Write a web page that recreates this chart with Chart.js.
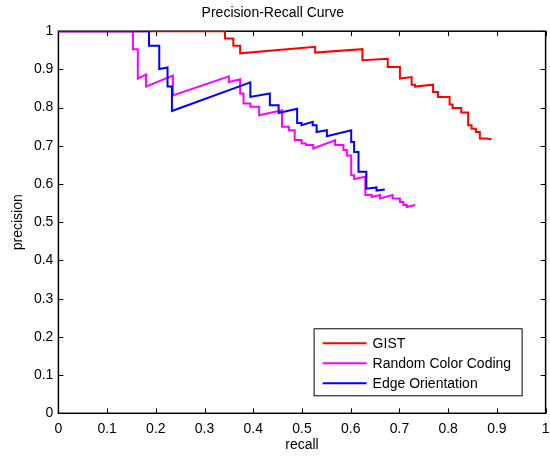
<!DOCTYPE html>
<html>
<head>
<meta charset="utf-8">
<script src="https://cdn.jsdelivr.net/npm/chart.js@4.4.1/dist/chart.umd.min.js"></script>
<style>
  html, body { margin: 0; padding: 0; background: #fff; }
  #prChart { display: block; }
</style>
</head>
<body>
<canvas id="prChart" width="550" height="459"></canvas>
<script>
// series values (recall -> precision, step curves)
var seriesNames = ['GIST', 'Random Color Coding', 'Edge Orientation'];
var seriesColors = ['#ff0000', '#ff00ff', '#0000ff'];

var gistRecall = [0, 0.342, 0.342, 0.359, 0.359, 0.373, 0.373, 0.527, 0.527, 0.624, 0.624, 0.676, 0.676, 0.701, 0.701,
  0.725, 0.725, 0.732, 0.732, 0.769, 0.769, 0.779, 0.779, 0.803, 0.803, 0.809, 0.809, 0.827, 0.827, 0.841, 0.841,
  0.848, 0.848, 0.857, 0.857, 0.865, 0.865, 0.878, 0.889];
var gistPrecision = [1, 1, 0.981, 0.981, 0.962, 0.962, 0.942, 0.959, 0.944, 0.953, 0.924, 0.928, 0.906, 0.906, 0.876,
  0.880, 0.860, 0.860, 0.855, 0.860, 0.841, 0.841, 0.828, 0.828, 0.808, 0.808, 0.799, 0.799, 0.787, 0.787, 0.754,
  0.754, 0.745, 0.745, 0.736, 0.736, 0.719, 0.719, 0.717];

var colorRecall = [0, 0.153, 0.153, 0.163, 0.163, 0.180, 0.180, 0.235, 0.235, 0.350, 0.350, 0.373, 0.373, 0.380, 0.380,
  0.394, 0.394, 0.412, 0.412, 0.459, 0.459, 0.473, 0.473, 0.485, 0.485, 0.499, 0.499, 0.508, 0.508, 0.523, 0.523,
  0.568, 0.568, 0.585, 0.585, 0.592, 0.592, 0.601, 0.601, 0.607, 0.607, 0.630, 0.630, 0.643, 0.643, 0.660, 0.660,
  0.686, 0.686, 0.701, 0.701, 0.708, 0.708, 0.715, 0.715, 0.732];
var colorPrecision = [1, 1, 0.953, 0.953, 0.876, 0.887, 0.855, 0.884, 0.832, 0.882, 0.867, 0.874, 0.837, 0.837, 0.811,
  0.811, 0.802, 0.802, 0.780, 0.793, 0.750, 0.750, 0.741, 0.741, 0.715, 0.715, 0.706, 0.706, 0.702, 0.702, 0.693,
  0.715, 0.702, 0.702, 0.689, 0.689, 0.675, 0.675, 0.623, 0.623, 0.613, 0.619, 0.571, 0.571, 0.566, 0.571, 0.562,
  0.571, 0.562, 0.562, 0.553, 0.553, 0.545, 0.545, 0.540, 0.545];

var edgeRecall = [0, 0.186, 0.186, 0.207, 0.207, 0.224, 0.224, 0.233, 0.233, 0.394, 0.394, 0.434, 0.434, 0.452, 0.452,
  0.490, 0.490, 0.499, 0.499, 0.522, 0.522, 0.530, 0.530, 0.551, 0.551, 0.601, 0.601, 0.607, 0.607, 0.616, 0.616,
  0.632, 0.632, 0.653, 0.653, 0.670];
var edgePrecision = [1, 1, 0.962, 0.962, 0.901, 0.905, 0.855, 0.855, 0.791, 0.866, 0.828, 0.837, 0.806, 0.806, 0.786,
  0.797, 0.760, 0.760, 0.754, 0.763, 0.754, 0.754, 0.736, 0.741, 0.725, 0.741, 0.710, 0.710, 0.684, 0.684, 0.632,
  0.632, 0.588, 0.591, 0.583, 0.586];

var axisTicks = [0, 0.1, 0.2, 0.3, 0.4, 0.5, 0.6, 0.7, 0.8, 0.9, 1];

function toPoints(xs, ys) {
  return xs.map(function (x, i) { return { x: x, y: ys[i] }; });
}

var fontName = "'Liberation Sans', Arial, sans-serif";

// matlab style box with inward ticks on all four sides
var boxPlugin = {
  id: 'matlabBox',
  beforeDatasetsDraw: function (chart) {
    var ctx = chart.ctx, a = chart.chartArea;
    var xs = chart.scales.x, ys = chart.scales.y;
    var tl = 5;
    ctx.save();
    ctx.strokeStyle = '#000';
    ctx.lineWidth = 1;
    ctx.beginPath();
    axisTicks.forEach(function (v) {
      var px = Math.round(xs.getPixelForValue(v)) + 0.5;
      ctx.moveTo(px, a.bottom); ctx.lineTo(px, a.bottom - tl);
      ctx.moveTo(px, a.top); ctx.lineTo(px, a.top + tl);
      var py = Math.round(ys.getPixelForValue(v)) + 0.5;
      ctx.moveTo(a.left, py); ctx.lineTo(a.left + tl, py);
      ctx.moveTo(a.right, py); ctx.lineTo(a.right - tl, py);
    });
    ctx.stroke();
    ctx.lineWidth = 1.5;
    ctx.strokeRect(a.left, a.top, a.right - a.left, a.bottom - a.top);
    ctx.restore();
  }
};

// legend box in the lower right corner of the axes
var legendPlugin = {
  id: 'innerLegend',
  afterDatasetsDraw: function (chart) {
    var ctx = chart.ctx, a = chart.chartArea;
    var bx = a.right - 24, by = a.bottom - 18;
    var w = 208, h = 67;
    ctx.save();
    ctx.fillStyle = '#fff';
    ctx.fillRect(bx - w, by - h, w, h);
    ctx.strokeStyle = '#000';
    ctx.lineWidth = 1;
    ctx.strokeRect(bx - w + 0.5, by - h + 0.5, w, h);
    ctx.font = '14px ' + fontName;
    ctx.textBaseline = 'middle';
    chart.data.datasets.forEach(function (ds, i) {
      var y = by - h + 15 + i * 20;
      ctx.strokeStyle = ds.borderColor;
      ctx.lineWidth = 2;
      ctx.beginPath();
      ctx.moveTo(bx - w + 9, y);
      ctx.lineTo(bx - w + 53, y);
      ctx.stroke();
      ctx.fillStyle = '#000';
      ctx.fillText(ds.label, bx - w + 59, y + 1);
    });
    ctx.restore();
  }
};

var ctx = document.getElementById('prChart');
var prChart = new Chart(ctx, {
  type: 'scatter',
  data: {
    datasets: [
      { label: seriesNames[0], data: toPoints(gistRecall, gistPrecision), borderColor: seriesColors[0], order: 3 },
      { label: seriesNames[1], data: toPoints(colorRecall, colorPrecision), borderColor: seriesColors[1], order: 2 },
      { label: seriesNames[2], data: toPoints(edgeRecall, edgePrecision), borderColor: seriesColors[2], order: 1 }
    ].map(function (d) {
      d.showLine = true;
      d.borderWidth = 2;
      d.pointRadius = 0;
      d.pointHoverRadius = 0;
      d.fill = false;
      d.tension = 0;
      return d;
    })
  },
  options: {
    responsive: false,
    animation: false,
    layout: { padding: { top: 0, right: 4.4, bottom: 0, left: 0 } },
    plugins: {
      legend: { display: false },
      tooltip: { enabled: false },
      title: {
        display: true,
        text: 'Precision-Recall Curve',
        color: '#000',
        font: { family: fontName, size: 14, weight: 'normal' },
        padding: { top: 5, bottom: 9.4 }
      }
    },
    scales: {
      x: {
        type: 'linear',
        min: 0,
        max: 1,
        afterFit: function (s) { s.height = 45.7; s.paddingLeft = 0; s.paddingRight = 0; },
        afterBuildTicks: function (s) { s.ticks = axisTicks.map(function (v) { return { value: v }; }); },
        grid: { display: false, drawTicks: false },
        border: { display: false },
        ticks: {
          color: '#000',
          padding: 7,
          maxRotation: 0,
          font: { family: fontName, size: 14 },
          callback: function (v) { return String(+v.toFixed(1)); }
        },
        title: {
          display: true,
          text: 'recall',
          color: '#000',
          font: { family: fontName, size: 14 },
          padding: { top: 0, bottom: 5 }
        }
      },
      y: {
        type: 'linear',
        min: 0,
        max: 1,
        afterFit: function (s) { s.width = 58.4; s.paddingTop = 0; s.paddingBottom = 0; },
        afterBuildTicks: function (s) { s.ticks = axisTicks.map(function (v) { return { value: v }; }); },
        grid: { display: false, drawTicks: false },
        border: { display: false },
        ticks: {
          color: '#000',
          padding: 5,
          font: { family: fontName, size: 14 },
          callback: function (v) { return String(+v.toFixed(1)); }
        },
        title: {
          display: true,
          text: 'precision',
          color: '#000',
          font: { family: fontName, size: 14 },
          padding: { top: 9.6, bottom: 0 }
        }
      }
    }
  },
  plugins: [boxPlugin, legendPlugin]
});
</script>
</body>
</html>
